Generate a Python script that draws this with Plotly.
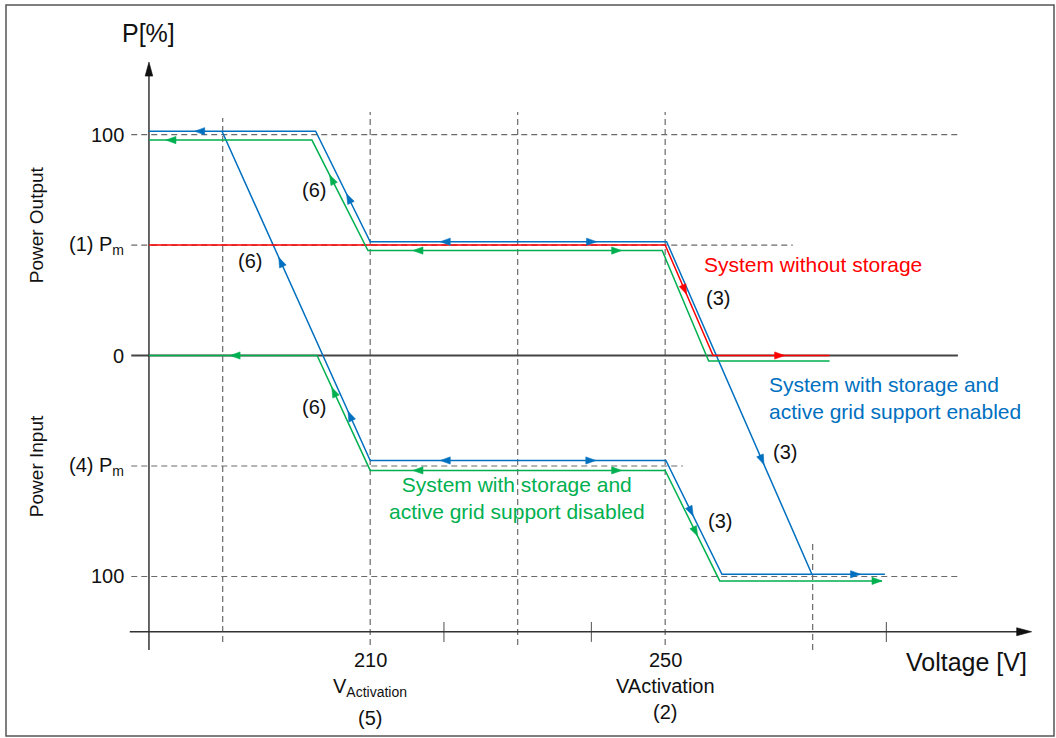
import math
import plotly.graph_objects as go

# ---------------- data (voltage in V, power in %) ----------------
blue_upper_v = [180, 202.6, 210, 250.2, 269.9, 279.8]
blue_upper_p = [101.5, 101.5, 51.5, 51.5, -99, -99]
blue_lower_v = [189.9, 210, 250.1, 257.7, 269.9]
blue_lower_p = [101.5, -47.5, -47.5, -99, -99]

green_upper_v = [180, 202.1, 209.7, 249.6, 255.9, 272.3]
green_upper_p = [97.5, 97.5, 47.5, 47.5, -2.5, -2.5]
green_lower_v = [180, 202.8, 210, 250, 257.4, 279.4]
green_lower_p = [0, 0, -52, -52, -102, -102]

red_v = [180, 250, 256.5, 272.3]
red_p = [50, 50, 0, 0]

# arrowheads: (segment index, head voltage, direction along the polyline)
blue_upper_arrows = [(0, 186.2, -1), (1, 206.8, -1), (2, 219.5, -1), (2, 240.7, 1),
                     (3, 263.4, 1), (4, 276.5, 1)]
blue_lower_arrows = [(0, 197.6, -1), (0, 207.0, -1), (1, 219.5, -1), (1, 240.6, 1),
                     (2, 253.8, 1)]
green_upper_arrows = [(0, 182.3, -1), (1, 204.5, -1), (2, 215.8, -1), (2, 244.1, 1)]
green_lower_arrows = [(0, 191.0, -1), (1, 204.8, -1), (2, 215.8, -1), (2, 244.1, 1),
                      (3, 254.4, 1), (4, 279.4, 1)]
red_arrows = [(1, 252.9, 1), (2, 266.2, 1)]

# reference (dashed) lines
h_levels = [100, 50, -50, -100]
h_ends = [289.7, 267.3, 252.4, 289.7]
h_start = 177.6
zero_end = 289.7
v_levels = [190, 210, 230, 250, 270]
v_low = [-129.6, -131, -131, -131, -133.3]
v_high = [107.5, 110.2, 110.2, 110.2, -83.5]
tick_levels = [220, 240, 280]
tick_low, tick_high = -129.6, -120.6

# axes
axis_v0, axis_v1 = 177.4, 299.7
axis_p_low, axis_p_top = -133.3, 132.8
x_axis_p = -125
y_axis_v = 180

# labels
y_tick_vals = [100, 50, 0, -50, -100]
y_tick_text = ["100", "(1) P<sub>m</sub>", "0", "(4) P<sub>m</sub>", "100"]
x_tick_vals = [210, 250]
x_tick_line1 = ["210", "250"]
x_tick_line2 = ["V<sub>Activation</sub>", "VActivation"]
x_tick_line3 = ["(5)", "(2)"]

# ---------------- layout constants ----------------
W, H = 1056, 738
X_RANGE = [159.8, 303.0]
Y_RANGE = [-173.1, 160.9]
FONT = "Arial, 'Liberation Sans', sans-serif"
BLUE = "#0070C0"
GREEN = "#00B050"
RED = "#FF0000"
GRID = "#6a6a6a"
AXIS = "#333333"
TXT = "#111111"

sx = W / (X_RANGE[1] - X_RANGE[0])
sy = H / (Y_RANGE[1] - Y_RANGE[0])

fig = go.Figure()
shapes = []
annotations = []


def head_shape(x, y, dx, dy, color, length=10.0, half=3.6):
    px, py = dx * sx, dy * sy
    n = math.hypot(px, py)
    ux, uy = px / n, py / n
    bx, by = -length * ux, -length * uy
    nx, ny = -uy, ux
    p1 = (bx + half * nx, by + half * ny)
    p2 = (bx - half * nx, by - half * ny)
    path = f"M 0 0 L {p1[0]:.2f} {p1[1]:.2f} L {p2[0]:.2f} {p2[1]:.2f} Z"
    return dict(type="path", xref="x", yref="y", xsizemode="pixel", ysizemode="pixel",
                xanchor=x, yanchor=y, path=path, fillcolor=color,
                line=dict(color=color, width=0.6), layer="above")


# dashed reference lines
for lv, end in zip(h_levels, h_ends):
    shapes.append(dict(type="line", xref="x", yref="y", x0=h_start, x1=end, y0=lv, y1=lv,
                       line=dict(color=GRID, width=1.2, dash="6px,4px"), layer="below"))
for lv, lo, hi in zip(v_levels, v_low, v_high):
    shapes.append(dict(type="line", xref="x", yref="y", x0=lv, x1=lv, y0=lo, y1=hi,
                       line=dict(color=GRID, width=1.2, dash="6px,4px"), layer="below"))
for lv in tick_levels:
    shapes.append(dict(type="line", xref="x", yref="y", x0=lv, x1=lv, y0=tick_low, y1=tick_high,
                       line=dict(color=GRID, width=1.2), layer="below"))

# zero line
fig.add_trace(go.Scatter(x=[h_start, zero_end], y=[0, 0], mode="lines",
                         line=dict(color="#444444", width=2), hoverinfo="skip", showlegend=False))
# axes
fig.add_trace(go.Scatter(x=[axis_v0, axis_v1 - 1], y=[x_axis_p, x_axis_p], mode="lines",
                         line=dict(color=AXIS, width=1.5), hoverinfo="skip", showlegend=False))
fig.add_trace(go.Scatter(x=[y_axis_v, y_axis_v], y=[axis_p_low, axis_p_top - 3], mode="lines",
                         line=dict(color=AXIS, width=1.5), hoverinfo="skip", showlegend=False))
shapes.append(head_shape(axis_v1, x_axis_p, 1, 0, "#111111", length=15, half=4))
shapes.append(head_shape(y_axis_v, axis_p_top, 0, 1, "#111111", length=14, half=3.8))

curves = [
    (blue_upper_v, blue_upper_p, BLUE, blue_upper_arrows),
    (blue_lower_v, blue_lower_p, BLUE, blue_lower_arrows),
    (red_v, red_p, RED, red_arrows),
    (green_upper_v, green_upper_p, GREEN, green_upper_arrows),
    (green_lower_v, green_lower_p, GREEN, green_lower_arrows),
]
for vs, ps, col, arrows in curves:
    fig.add_trace(go.Scatter(x=vs, y=ps, mode="lines", line=dict(color=col, width=1.5),
                             hoverinfo="skip", showlegend=False))
    for i, hv, d in arrows:
        v0, v1 = vs[i], vs[i + 1]
        p0, p1 = ps[i], ps[i + 1]
        t = (hv - v0) / (v1 - v0)
        hp = p0 + t * (p1 - p0)
        shapes.append(head_shape(hv, hp, d * (v1 - v0), d * (p1 - p0), col))


def txt(x, y, text, size=20, color=TXT, xanchor="center", yanchor="middle", angle=0, align="center"):
    annotations.append(dict(x=x, y=y, xref="x", yref="y", text=text, showarrow=False,
                            font=dict(family=FONT, size=size, color=color),
                            xanchor=xanchor, yanchor=yanchor, textangle=angle, align=align))


# y tick labels
for val, lab in zip(y_tick_vals, y_tick_text):
    txt(176.9, val, lab, size=20, xanchor="right")
# x tick labels
for val, l1, l2, l3 in zip(x_tick_vals, x_tick_line1, x_tick_line2, x_tick_line3):
    txt(val, -137.8, l1, size=20)
    txt(val, -150.3 if "sub" in l2 else -149.5, l2, size=20)
    txt(val, -164.1 if "sub" in l2 else -161.3, l3, size=20)

txt(179.9, 145.8, "P[%]", size=25)
txt(290.8, -138.7, "Voltage [V]", size=25)
txt(164.7, 59.0, "Power Output", size=19, angle=-90)
txt(164.7, -50.0, "Power Input", size=19, angle=-90)

txt(255.0, 41.0, "System without storage", size=21, color=RED, xanchor="left")
txt(263.8, -19.0, "System with storage and<br>active grid support enabled", size=21,
    color=BLUE, xanchor="left", align="left")
txt(229.9, -64.3, "System with storage and<br>active grid support disabled", size=21,
    color=GREEN)

for (vx, py) in [(202.4, 74.9), (193.7, 42.8), (202.4, -23.3)]:
    txt(vx, py, "(6)", size=20)
for (vx, py) in [(257.2, 26.0), (266.2, -43.7), (257.4, -74.9)]:
    txt(vx, py, "(3)", size=20)

# frame
shapes.append(dict(type="rect", xref="paper", yref="paper", x0=6 / W, x1=1054 / W,
                   y0=1 - 736 / H, y1=1 - 5 / H, line=dict(color="#555555", width=1.5),
                   layer="above"))

fig.update_layout(
    width=W, height=H, margin=dict(l=0, r=0, t=0, b=0),
    paper_bgcolor="white", plot_bgcolor="white",
    xaxis=dict(range=X_RANGE, visible=False, fixedrange=True),
    yaxis=dict(range=Y_RANGE, visible=False, fixedrange=True),
    shapes=shapes, annotations=annotations, showlegend=False,
)

fig.write_html("out.html", config={"displayModeBar": False},
               post_script="document.body.style.margin='0';document.body.style.overflow='hidden';")
